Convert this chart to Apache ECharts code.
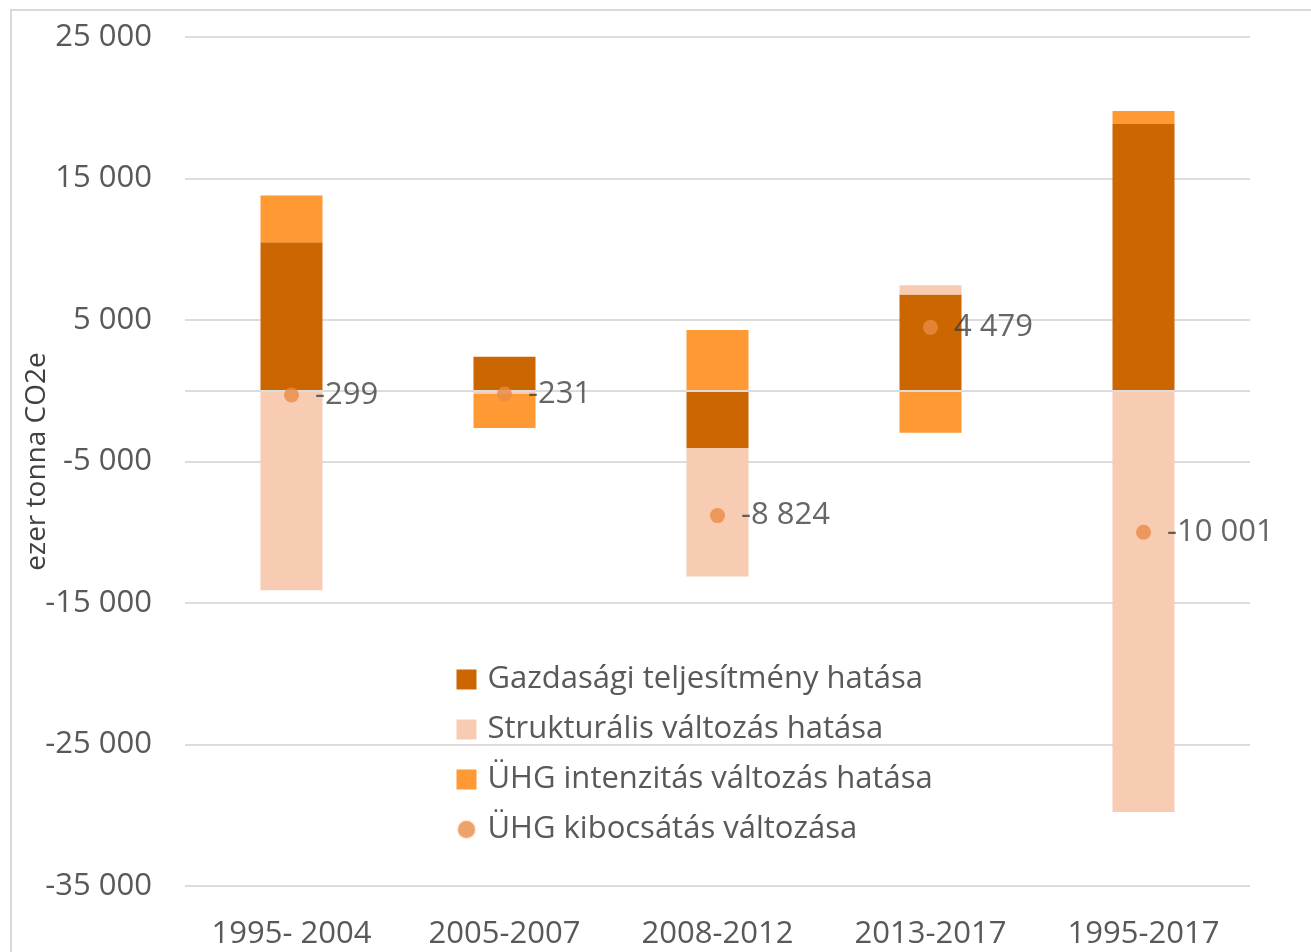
<!DOCTYPE html>
<html>
<head>
<meta charset="utf-8">
<script src="https://cdn.jsdelivr.net/npm/echarts@6/dist/echarts.min.js"></script>
<style>
  html, body { margin: 0; padding: 0; background: #fff; }
  #chart { width: 1311px; height: 952px; }
</style>
</head>
<body>
<div id="chart"></div>
<script>
const categories = ['1995- 2004', '2005-2007', '2008-2012', '2013-2017', '1995-2017']
const gazdasagi = [10500, 2400, -4050, 6800, 18850]
const strukturalis = [-14100, -230, -9074, 650, -29771]
const intenzitas = [3300, -2400, 4300, -2970, 920]
const kibocsatas = [-299, -231, -8824, 4479, -10001]
const yTicks = [-35000, -25000, -15000, -5000, 5000, 15000, 25000]

const FONT = 'Open Sans'

function fmt (v) {
  const s = String(Math.abs(v)).replace(/\B(?=(\d{3})+(?!\d))/g, ' ')
  return (v < 0 ? '-' : '') + s
}

const mychart = echarts.init(document.getElementById('chart'))
const option = {
  backgroundColor: '#fff',
  textStyle: { fontFamily: FONT },
  graphic: [{
    type: 'rect',
    shape: { x: 11, y: 10, width: 1400, height: 1000 },
    style: { fill: 'none', stroke: '#d9d9d9', lineWidth: 2 },
    silent: true
  }],
  grid: {
    left: 185,
    right: 61,
    top: 37,
    bottom: 66
  },
  legend: {
    orient: 'vertical',
    left: 450,
    top: 659,
    itemWidth: 20,
    itemHeight: 20,
    itemGap: 19,
    textStyle: {
      fontFamily: FONT,
      fontSize: 31,
      color: '#595959',
      lineHeight: 30,
      padding: [0, 0, 0, 6]
    },
    data: [
      { name: 'Gazdasági teljesítmény hatása', icon: 'rect' },
      { name: 'Strukturális változás hatása', icon: 'rect' },
      { name: 'ÜHG intenzitás változás hatása', icon: 'rect' },
      { name: 'ÜHG kibocsátás változása', icon: 'circle', itemStyle: { borderColor: '#fff', borderWidth: 3 } }
    ]
  },
  xAxis: {
    type: 'category',
    data: categories,
    axisLine: { show: false, onZero: false },
    axisTick: { show: false },
    axisLabel: {
      fontFamily: FONT,
      fontSize: 31,
      color: '#595959',
      margin: 33
    }
  },
  yAxis: {
    type: 'value',
    min: -35000,
    max: 25000,
    interval: 5000,
    name: 'ezer tonna CO2e',
    nameLocation: 'middle',
    nameRotate: 90,
    nameGap: 134,
    nameMoveOverlap: false,
    nameTextStyle: {
      fontFamily: FONT,
      fontSize: 28,
      color: '#404040'
    },
    axisLine: { show: false },
    axisTick: { show: false, customValues: yTicks },
    axisLabel: {
      customValues: yTicks,
      fontFamily: FONT,
      fontSize: 31,
      color: '#595959',
      margin: 33,
      formatter: fmt
    },
    splitLine: {
      show: true,
      lineStyle: { color: '#dcdcdc', width: 2 }
    }
  },
  series: [{
    name: 'Gazdasági teljesítmény hatása',
    type: 'bar',
    stack: 'total',
    barWidth: 62,
    color: '#cc6600',
    data: gazdasagi
  },
  {
    name: 'Strukturális változás hatása',
    type: 'bar',
    stack: 'total',
    barWidth: 62,
    color: '#f8cbb3',
    data: strukturalis
  },
  {
    name: 'ÜHG intenzitás változás hatása',
    type: 'bar',
    stack: 'total',
    barWidth: 62,
    color: '#ff9933',
    data: intenzitas
  },
  {
    name: 'ÜHG kibocsátás változása',
    type: 'scatter',
    z: 10,
    color: '#e88b43',
    symbol: 'circle',
    symbolSize: 15,
    label: {
      show: true,
      position: 'right',
      distance: 16,
      fontFamily: FONT,
      fontSize: 31,
      color: '#404040',
      formatter: p => fmt(p.value)
    },
    markLine: {
      silent: true,
      symbol: 'none',
      z: 5,
      label: { show: false },
      lineStyle: { color: '#dcdcdc', width: 2, type: 'solid' },
      data: [{ yAxis: 0 }]
    },
    data: kibocsatas
  }]
}
mychart.setOption(option)
window.addEventListener('resize', function () {
  mychart.resize()
})
</script>
</body>
</html>
